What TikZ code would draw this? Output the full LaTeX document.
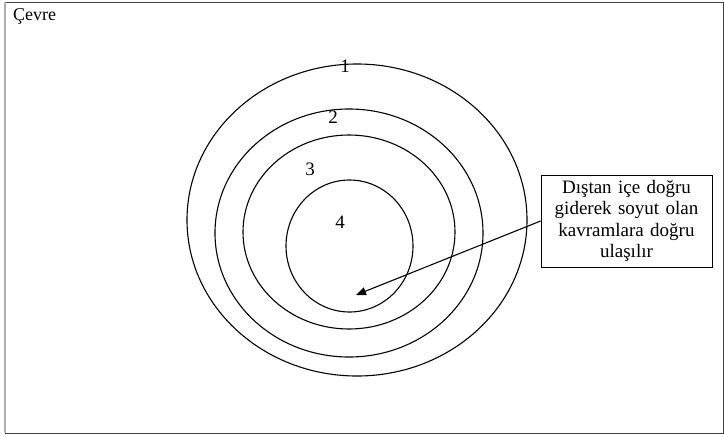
\documentclass[tikz,border=0pt]{standalone}
\usepackage{fontspec}
\setmainfont{Liberation Serif}
\usetikzlibrary{arrows.meta,positioning}

\begin{document}
\begin{tikzpicture}[
    x=1pt, y=-1pt,
    ring/.style={draw, line width=1.1pt},
    num/.style={font=\fontsize{19}{20}\selectfont, inner sep=0pt},
    note/.style={rectangle, draw, line width=0.8pt, text width=165pt, align=center, minimum width=171pt, minimum height=92pt, inner sep=2pt, font=\fontsize{19}{21.5}\selectfont},
    arrow/.style={line width=1.1pt, -{Triangle[length=10pt,width=8pt]}}
]
\useasboundingbox (0,0) rectangle (724,437);

% frame
\draw[line width=0.9pt, black!75] (5,2) -- (723,2) -- (723,433) -- (5,433);
\draw[line width=1.3pt, black!30] (5,2) -- (5,433);
\node[anchor=north west, inner sep=0pt, font=\fontsize{18}{20}\selectfont] (cevre) at (13,8) {Çevre};

% rings
\draw[ring] (357,220) ellipse (170 and 156);
\draw[ring] (349,233) ellipse (134 and 124);
\draw[ring] (349,232) ellipse (106 and 97);
\draw[ring] (349.5,246) ellipse (63.5 and 66);

\node[num] (n1) at (345,66) {1};
\node[num] (n2) at (333,117) {2};
\node[num] (n3) at (310,169) {3};
\node[num] (n4) at (340,222) {4};

% explanation
\node[note] (box) at (626.5,221) {Dıştan içe doğru\\ giderek soyut olan\\ kavramlara doğru\\ ulaşılır};
\coordinate (tip) at (356,295);
\draw[arrow] (box.west) -- (tip);

\end{tikzpicture}
\end{document}
